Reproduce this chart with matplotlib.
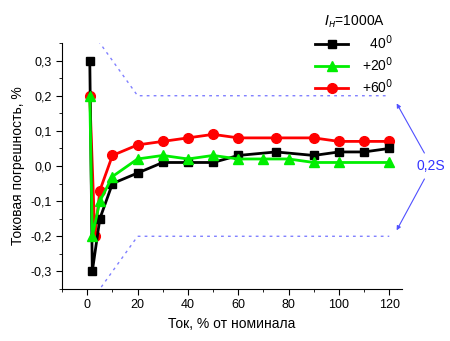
import numpy as np
import matplotlib
matplotlib.use('Agg')
import matplotlib.pyplot as plt
from matplotlib.ticker import MultipleLocator, FuncFormatter

plt.rcParams['font.family'] = ['Liberation Sans', 'DejaVu Sans']

# data
x_black = [1, 2, 5, 10, 20, 30, 40, 50, 60, 75, 90, 100, 110, 120]
y_black = [0.30, -0.30, -0.15, -0.05, -0.02, 0.01, 0.01, 0.01, 0.03, 0.04, 0.03, 0.04, 0.04, 0.05]

x_green = [1, 2, 5, 10, 20, 30, 40, 50, 60, 70, 80, 90, 100, 120]
y_green = [0.20, -0.20, -0.10, -0.03, 0.02, 0.03, 0.02, 0.03, 0.02, 0.02, 0.02, 0.01, 0.01, 0.01]

x_red = [1, 3, 5, 10, 20, 30, 40, 50, 60, 75, 90, 100, 110, 120]
y_red = [0.20, -0.20, -0.07, 0.03, 0.06, 0.07, 0.08, 0.09, 0.08, 0.08, 0.08, 0.07, 0.07, 0.07]

# accuracy class 0.2S limits
x_lim = [1, 5, 20, 120]
y_lim = [0.75, 0.35, 0.2, 0.2]

labels = ['  40$^0$', '+20$^0$', '+60$^0$']

fig = plt.figure(figsize=(4.5, 3.41), dpi=100)
ax = fig.add_axes([0.138, 0.1525, 0.755, 0.7214])

ax.plot(x_lim, y_lim, ls=(0, (2, 3)), color='#8080ff', lw=1)
ax.plot(x_lim, [-v for v in y_lim], ls=(0, (2, 3)), color='#8080ff', lw=1)

ax.plot(x_black, y_black, '-s', color='black', lw=2, ms=6, label=labels[0], zorder=3)
ax.plot(x_green, y_green, '-^', color='#00ee00', lw=2, ms=7, label=labels[1], zorder=4)
ax.plot(x_red, y_red, '-o', color='#ff0000', lw=2, ms=7, label=labels[2], zorder=2)

ax.set_xlim(-10, 125)
ax.set_ylim(-0.35, 0.35)
ax.xaxis.set_major_locator(MultipleLocator(20))
ax.xaxis.set_minor_locator(MultipleLocator(10))
ax.yaxis.set_major_locator(MultipleLocator(0.1))
ax.yaxis.set_minor_locator(MultipleLocator(0.05))
ax.yaxis.set_major_formatter(FuncFormatter(lambda v, p: ('%.1f' % v).replace('.', ',').replace('-0,0', '0,0')))
ax.tick_params(which='both', direction='out', labelsize=9)
ax.tick_params(which='major', length=4)
ax.tick_params(which='minor', length=2.5)
for s in ['top', 'right']:
    ax.spines[s].set_visible(False)

ax.set_xlabel('Ток, % от номинала', fontsize=10)
ax.set_ylabel('Токовая погрешность, %', fontsize=10)

leg = ax.legend(title=r'$I_{н}$=1000A', loc='upper right', bbox_to_anchor=(0.975, 1.12),
                frameon=False, fontsize=10, title_fontsize=10, handlelength=2.4,
                labelspacing=0.25, borderaxespad=0, borderpad=0, handletextpad=1.0)

# 0,2S annotation
ax.text(136.5, 0.0, '0,2S', color='#3333ff', fontsize=10, ha='center', va='center', clip_on=False)
ax.annotate('', xy=(122.4, 0.185), xytext=(134.5, 0.03),
            arrowprops=dict(arrowstyle='-|>', color='#5050ff', lw=0.8, mutation_scale=6),
            annotation_clip=False)
ax.annotate('', xy=(122.4, -0.19), xytext=(134.5, -0.03),
            arrowprops=dict(arrowstyle='-|>', color='#5050ff', lw=0.8, mutation_scale=6),
            annotation_clip=False)

fig.savefig('out.png', dpi=100)
